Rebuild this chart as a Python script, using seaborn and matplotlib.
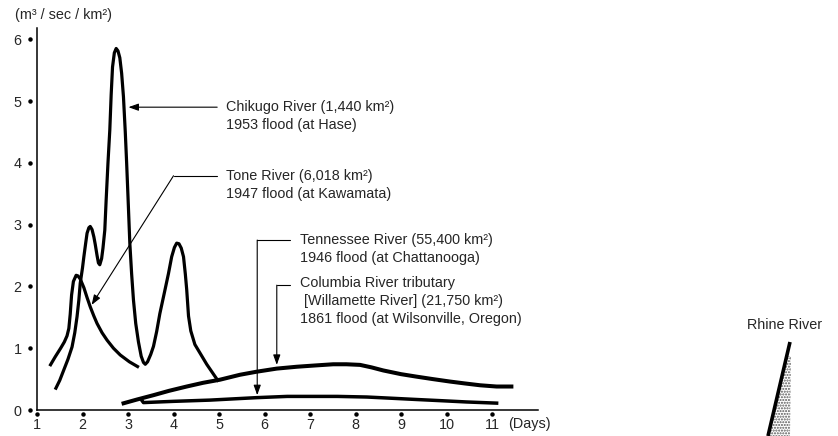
import numpy as np
import pandas as pd
import matplotlib
matplotlib.use("Agg")
import matplotlib.pyplot as plt
import matplotlib.transforms as mtransforms
import seaborn as sns

# Specific discharge hydrographs (m3/sec/km2) against time (days)
chikugo_day = [1.40, 1.50, 1.59, 1.68, 1.77, 1.83, 1.88, 1.92, 1.95, 2.00, 2.03, 2.07, 2.10,
               2.14, 2.17, 2.21, 2.25, 2.28, 2.32, 2.35, 2.38, 2.42, 2.45, 2.49, 2.52, 2.56,
               2.60, 2.63, 2.66, 2.70, 2.74, 2.78, 2.82, 2.86, 2.90, 2.94, 2.97, 3.00, 3.04,
               3.08, 3.12, 3.17, 3.23, 3.29, 3.34, 3.38, 3.43, 3.50, 3.56, 3.63, 3.70, 3.80,
               3.89, 3.96, 4.02, 4.07, 4.12, 4.17, 4.22, 4.26, 4.29, 4.33, 4.38, 4.47, 4.60,
               4.73, 4.86, 4.99]
chikugo_q = [0.33, 0.48, 0.65, 0.82, 1.02, 1.25, 1.51, 1.78, 2.05, 2.30, 2.48, 2.70, 2.86,
             2.95, 2.97, 2.92, 2.80, 2.68, 2.50, 2.38, 2.35, 2.45, 2.62, 2.91, 3.40, 4.00,
             4.53, 5.10, 5.55, 5.78, 5.85, 5.81, 5.70, 5.45, 5.07, 4.50, 4.00, 3.45, 2.70,
             2.20, 1.78, 1.40, 1.10, 0.87, 0.77, 0.74, 0.78, 0.90, 1.03, 1.27, 1.56, 1.90,
             2.21, 2.48, 2.63, 2.70, 2.69, 2.62, 2.48, 2.20, 1.95, 1.52, 1.28, 1.06, 0.90,
             0.74, 0.60, 0.46]

tone_day = [1.28, 1.40, 1.52, 1.60, 1.66, 1.70, 1.73, 1.76, 1.80, 1.86, 1.90, 1.95, 2.03,
            2.10, 2.17, 2.25, 2.32, 2.43, 2.54, 2.68, 2.83, 3.03, 3.24]
tone_q = [0.71, 0.86, 1.00, 1.10, 1.20, 1.32, 1.55, 1.86, 2.08, 2.18, 2.17, 2.12, 1.98,
          1.82, 1.67, 1.52, 1.40, 1.25, 1.13, 1.00, 0.89, 0.78, 0.69]

columbia_day = [2.86, 3.20, 3.56, 3.90, 4.29, 4.65, 5.02, 5.46, 5.83, 6.27, 6.71, 7.10,
                7.51, 7.80, 8.10, 8.35, 8.61, 9.00, 9.34, 9.70, 10.08, 10.40, 10.74,
                11.10, 11.47]
columbia_q = [0.10, 0.17, 0.24, 0.31, 0.38, 0.44, 0.49, 0.57, 0.62, 0.67, 0.70, 0.72,
              0.74, 0.74, 0.73, 0.69, 0.64, 0.58, 0.54, 0.50, 0.46, 0.43, 0.40, 0.38, 0.38]

tennessee_day = [3.29, 3.34, 4.00, 4.80, 5.83, 6.50, 7.00, 7.60, 8.25, 8.80, 9.34, 9.90,
                 10.44, 11.14]
tennessee_q = [0.17, 0.12, 0.14, 0.16, 0.20, 0.22, 0.22, 0.22, 0.21, 0.19, 0.17, 0.15,
               0.13, 0.11]

x_ticks = [1, 2, 3, 4, 5, 6, 7, 8, 9, 10, 11]
y_ticks = [0, 1, 2, 3, 4, 5, 6]

# Rhine River wedge (separate small panel at lower right)
rhine_x = [8, 30]
rhine_y = [0, 94]

sns.set_theme(style="white")
plt.rcParams["font.family"] = ["Liberation Sans", "DejaVu Sans"]
FS = 10.4

fig = plt.figure(figsize=(8.38, 4.36), dpi=100)
W, H = 838, 436
ax = fig.add_axes([37 / W, 26 / H, 500.5 / W, 382 / H])

series = [
    (chikugo_day, chikugo_q, 2.3),
    (tone_day, tone_q, 2.3),
    (columbia_day, columbia_q, 2.9),
    (tennessee_day, tennessee_q, 2.5),
]
for days, q, lw in series:
    df = pd.DataFrame({"day": days, "q": q})
    sns.lineplot(data=df, x="day", y="q", ax=ax, color="black", linewidth=lw,
                 sort=False, estimator=None, solid_capstyle="butt",
                 solid_joinstyle="round")

ax.set_xlim(1, 12)
ax.set_ylim(0, 382 / 61.8)
ax.set_xlabel("")
ax.set_ylabel("")
for side in ("top", "right"):
    ax.spines[side].set_visible(False)
for side in ("left", "bottom"):
    ax.spines[side].set_color("black")
    ax.spines[side].set_linewidth(1.1)

ax.set_xticks(x_ticks)
ax.set_yticks(y_ticks)
ax.set_xticklabels([str(v) for v in x_ticks], fontsize=FS)
ax.set_yticklabels([str(v) for v in y_ticks], fontsize=FS)
ax.tick_params(axis="x", length=0, pad=6)
ax.tick_params(axis="y", length=0, pad=11)

# dot tick marks just outside the axes
ydot = mtransforms.blended_transform_factory(ax.transAxes, ax.transData) + \
    mtransforms.ScaledTranslation(-7 / 100, 0, fig.dpi_scale_trans)
ax.plot([0] * len(y_ticks), y_ticks, "o", color="black", markersize=2.2,
        transform=ydot, clip_on=False)
xdot = mtransforms.blended_transform_factory(ax.transData, ax.transAxes) + \
    mtransforms.ScaledTranslation(0, -4 / 100, fig.dpi_scale_trans)
ax.plot(x_ticks, [0] * len(x_ticks), "o", color="black", markersize=2.2,
        transform=xdot, clip_on=False)

# annotation leaders
alw = 0.8
aprops = dict(arrowstyle="-|>,head_length=0.5,head_width=0.18", color="black",
              lw=alw, shrinkA=0, shrinkB=0)

# Chikugo
ax.annotate("", xy=(3.01, 4.90), xytext=(4.96, 4.90), arrowprops=aprops)
ax.text(5.15, 4.90, "Chikugo River (1,440 km²)", fontsize=FS, va="center")
ax.text(5.15, 4.61, "1953 flood (at Hase)", fontsize=FS, va="center")

# Tone
ax.plot([4.96, 4.0], [3.79, 3.79], color="black", lw=alw)
ax.annotate("", xy=(2.20, 1.70), xytext=(4.0, 3.79), arrowprops=aprops)
ax.text(5.15, 3.79, "Tone River (6,018 km²)", fontsize=FS, va="center")
ax.text(5.15, 3.50, "1947 flood (at Kawamata)", fontsize=FS, va="center")

# Tennessee
ax.plot([6.56, 5.84], [2.75, 2.75], color="black", lw=alw)
ax.annotate("", xy=(5.84, 0.24), xytext=(5.84, 2.75), arrowprops=aprops)
ax.text(6.78, 2.75, "Tennessee River (55,400 km²)", fontsize=FS, va="center")
ax.text(6.78, 2.46, "1946 flood (at Chattanooga)", fontsize=FS, va="center")

# Columbia
ax.plot([6.56, 6.27], [2.02, 2.02], color="black", lw=alw)
ax.annotate("", xy=(6.27, 0.73), xytext=(6.27, 2.02), arrowprops=aprops)
ax.text(6.78, 2.06, "Columbia River tributary", fontsize=FS, va="center")
ax.text(6.78, 1.77, " [Willamette River] (21,750 km²)", fontsize=FS, va="center")
ax.text(6.78, 1.48, "1861 flood (at Wilsonville, Oregon)", fontsize=FS, va="center")

fig.text(15 / W, 1 - 15 / H, "(m³ / sec / km²)", fontsize=FS, va="center", ha="left")
fig.text(508 / W, 1 - 424 / H, "(Days)", fontsize=FS, va="center", ha="left")

# Rhine River panel
axr = fig.add_axes([760 / W, 0, 40 / W, 100 / H])
axr.set_xlim(0, 40)
axr.set_ylim(0, 100)
axr.axis("off")
axr.fill_betweenx([0, 80], [rhine_x[0], rhine_x[0] + (rhine_x[1] - rhine_x[0]) * 80 / rhine_y[1]],
                  [30, 31], facecolor="none", edgecolor="#555555", hatch="......",
                  linewidth=0)
axr.plot(rhine_x, rhine_y, color="black", lw=2.6, solid_capstyle="butt")
fig.text(747 / W, 1 - 325 / H, "Rhine River", fontsize=FS, va="center", ha="left")

fig.savefig("out.png", dpi=100)
